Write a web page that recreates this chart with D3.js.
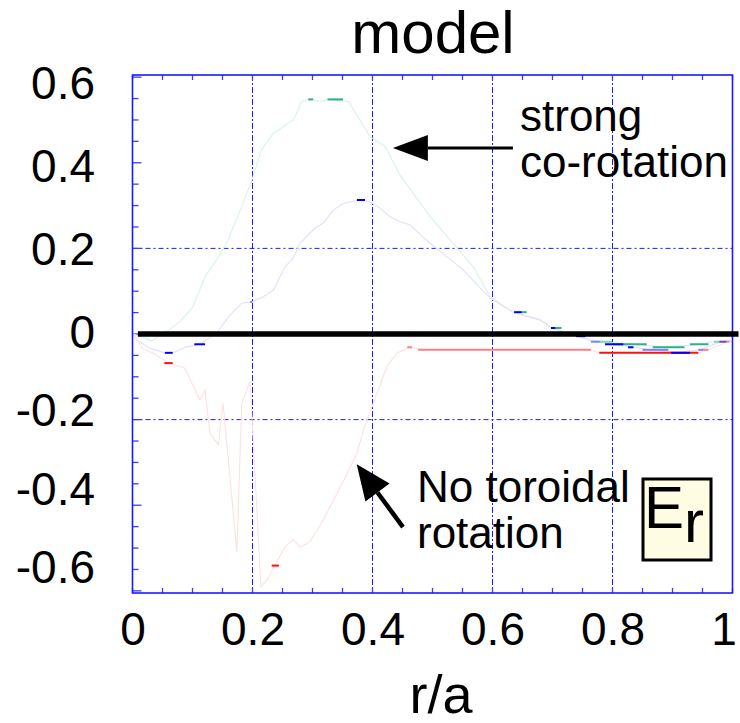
<!DOCTYPE html>
<html>
<head>
<meta charset="utf-8">
<script src="https://cdn.jsdelivr.net/npm/d3@7"></script>
<style>
  html, body { margin: 0; padding: 0; background: #fff; }
  svg { display: block; font-family: "Liberation Sans", Arial, Helvetica, sans-serif; }
</style>
</head>
<body>
<svg id="chart" width="740" height="723"></svg>
<script>
// ---------------- data ----------------
const xTicks = [0, 0.2, 0.4, 0.6, 0.8, 1];
const yTicks = [-0.6, -0.4, -0.2, 0, 0.2, 0.4, 0.6];
const xGrid = [0.2, 0.4, 0.6, 0.8];
const yGrid = [-0.2, 0.2];

// strong co-rotation profile (r/a, Er)
const greenCurve = [
  [0.001, 0], [0.0125, -0.006], [0.032, -0.016], [0.06, 0.009], [0.079, 0.029],
  [0.101, 0.064], [0.121, 0.134], [0.14, 0.173], [0.157, 0.212], [0.182, 0.297],
  [0.199, 0.36], [0.215, 0.43], [0.235, 0.469], [0.268, 0.5], [0.282, 0.543],
  [0.296, 0.548], [0.315, 0.543], [0.324, 0.548], [0.36, 0.543], [0.396, 0.461],
  [0.421, 0.438], [0.446, 0.371], [0.496, 0.274], [0.568, 0.157], [0.596, 0.087],
  [0.634, 0.051], [0.679, 0.033], [0.699, 0.014], [0.741, -0.005], [0.779, -0.018],
  [0.829, -0.023], [0.879, -0.03], [0.929, -0.026], [0.963, -0.019], [0.996, -0.016]
];
// intermediate profile
const blueCurve = [
  [0.001, 0], [0.007, -0.014], [0.029, -0.033], [0.054, -0.044], [0.067, -0.044],
  [0.09, -0.03], [0.1125, -0.024], [0.14, 0.002], [0.1625, 0.044], [0.182, 0.072],
  [0.199, 0.075], [0.218, 0.087], [0.235, 0.103], [0.254, 0.157], [0.268, 0.177],
  [0.279, 0.212], [0.304, 0.247], [0.318, 0.259], [0.335, 0.29], [0.351, 0.305],
  [0.379, 0.313], [0.396, 0.309], [0.4125, 0.294], [0.429, 0.274], [0.446, 0.262],
  [0.4625, 0.255], [0.484, 0.227], [0.496, 0.212], [0.551, 0.15], [0.596, 0.084],
  [0.634, 0.051], [0.679, 0.033], [0.699, 0.014], [0.741, -0.005], [0.771, -0.018],
  [0.8125, -0.026], [0.8625, -0.037], [0.9125, -0.042], [0.946, -0.037], [0.979, -0.019],
  [0.999, -0.016]
];
// no toroidal rotation profile
const redCurve = [
  [0.001, 0], [0.018, -0.036], [0.035, -0.045], [0.06, -0.068], [0.0875, -0.08],
  [0.099, -0.115], [0.1125, -0.154], [0.121, -0.131], [0.129, -0.232], [0.143, -0.259],
  [0.151, -0.162], [0.174, -0.509], [0.182, -0.162], [0.196, -0.111], [0.214, -0.59],
  [0.224, -0.575], [0.2375, -0.541], [0.254, -0.497], [0.268, -0.48], [0.279, -0.498],
  [0.296, -0.485], [0.315, -0.442], [0.351, -0.345], [0.374, -0.279], [0.385, -0.224],
  [0.401, -0.162], [0.424, -0.076], [0.44, -0.045], [0.4625, -0.031], [0.486, -0.037],
  [0.6125, -0.037], [0.7625, -0.037], [0.779, -0.044], [0.9425, -0.044], [0.959, -0.037],
  [0.9925, -0.018]
];

// short segments [r0, r1, Er]
const dashLightRed = [[0.458, 0.466, -0.031], [0.476, 0.764, -0.037], [0.951, 0.96, -0.037], [0.99, 0.995, -0.018]];
const dashRed = [[0.053, 0.067, -0.068], [0.232, 0.244, -0.541], [0.778, 0.943, -0.044]];
const dashGreen = [[0.293, 0.301, 0.548], [0.325, 0.351, 0.548], [0.649, 0.657, 0.051], [0.705, 0.715, 0.014],
  [0.801, 0.857, -0.024], [0.867, 0.92, -0.031], [0.929, 0.96, -0.024]];
const dashLightGreen = [[0.779, 0.7995, -0.018], [0.969, 0.978, -0.018]];
const dashBlue = [[0.374, 0.3875, 0.313], [0.103, 0.121, -0.024], [0.054, 0.067, -0.044], [0.636, 0.649, 0.051],
  [0.6975, 0.705, 0.014], [0.739, 0.755, -0.005], [0.7875, 0.818, -0.024], [0.826, 0.835, -0.031], [0.8975, 0.929, -0.044]];
const dashLightBlue = [[0.196, 0.2, 0.075], [0.764, 0.779, -0.018], [0.85, 0.893, -0.037], [0.943, 0.951, -0.037]];
const dashPurple = [[0.978, 0.99, -0.018]];

// annotations
const annotations = [
  { lines: ["strong", "co-rotation"], tip: [0.434, 0.4346], tail: [0.634, 0.4346] },
  { lines: ["No toroidal", "rotation"], tip: [0.3737, -0.3044], tail: [0.4508, -0.451] }
];

// ---------------- drawing ----------------
const svg = d3.select("#chart");
const L = 132.5, R = 732.5, T = 75, B = 593;
const x = d3.scaleLinear().domain([0, 1]).range([L, R]);
const y = d3.scaleLinear().domain([-0.605, 0.605]).range([B, T]);
// tick-label placement of the original figure (labels slightly off the grid)
const yLab = d3.scaleLinear().domain([-0.6, 0, 0.6]).range([567.5, 333, 83.5]);

const blue = "#1a1aff";

// grid
svg.append("g").selectAll("line").data(xGrid).join("line")
  .attr("x1", d => x(d)).attr("x2", d => x(d)).attr("y1", T).attr("y2", B)
  .attr("stroke", blue).attr("stroke-width", 1).attr("stroke-dasharray", "6,2,2,2");
svg.append("g").selectAll("line").data(yGrid).join("line")
  .attr("x1", L).attr("x2", R).attr("y1", d => y(d)).attr("y2", d => y(d))
  .attr("stroke", blue).attr("stroke-width", 1).attr("stroke-dasharray", "5,3,2,3");

// minor ticks
const minorX = d3.range(0, 1.0001, 0.05).map(v => +v.toFixed(2));
const minorY = d3.range(-0.6, 0.6001, 0.05).map(v => +v.toFixed(2));
const tickG = svg.append("g").attr("stroke", "#3c3cff").attr("stroke-width", 1.3);
minorX.forEach(v => {
  tickG.append("line").attr("x1", x(v)).attr("x2", x(v)).attr("y1", T).attr("y2", T + 5);
  tickG.append("line").attr("x1", x(v)).attr("x2", x(v)).attr("y1", B).attr("y2", B - 5);
});
minorY.forEach(v => {
  const major = Math.abs(Math.round(v * 10) % 2) === 0 && Math.abs(v * 10 - Math.round(v * 10)) < 1e-6;
  tickG.append("line").attr("x1", L).attr("x2", L + (major ? 9 : 6)).attr("y1", y(v)).attr("y2", y(v));
});

// curves (very faint in the original)
const line = d3.line().x(d => x(d[0])).y(d => y(d[1]));
[[greenCurve, "#d6f3e8"], [blueCurve, "#e0e0fc"], [redCurve, "#ffe0e0"]].forEach(([data, c]) => {
  svg.append("path").datum(data).attr("d", line).attr("fill", "none")
    .attr("stroke", c).attr("stroke-width", 1.1);
});

// short segments
[[dashLightRed, "#ff8080"], [dashRed, "#ff1010"], [dashLightGreen, "#80d2b4"], [dashGreen, "#2fb089"],
 [dashLightBlue, "#8080ff"], [dashBlue, "#0000ff"], [dashPurple, "#6a48c0"]].forEach(([data, c]) => {
  svg.append("g").selectAll("line").data(data).join("line")
    .attr("x1", d => x(d[0])).attr("x2", d => x(d[1]))
    .attr("y1", d => y(d[2])).attr("y2", d => y(d[2]))
    .attr("stroke", c).attr("stroke-width", 2);
});

// frame
svg.append("rect").attr("x", L).attr("y", T).attr("width", R - L).attr("height", B - T)
  .attr("fill", "none").attr("stroke", blue).attr("stroke-width", 1.6);

// zero line
svg.append("line").attr("x1", x(0.009)).attr("x2", x(1.01)).attr("y1", y(0)).attr("y2", y(0))
  .attr("stroke", "#000").attr("stroke-width", 5.5);

// axes labels
const fmt = d => d === 0 ? "0" : String(d);
const xAxis = svg.append("g").attr("transform", `translate(0,${B})`)
  .call(d3.axisBottom(x).tickValues(xTicks).tickFormat(fmt).tickSize(0).tickPadding(19));
xAxis.select(".domain").remove();
xAxis.selectAll("text").attr("font-size", 46).attr("font-family", "Liberation Sans, Arial, sans-serif").attr("fill", "#000")
  .attr("dx", d => d === 1 ? -9 : 0);

const yAxis = svg.append("g").attr("transform", "translate(95,0)")
  .call(d3.axisLeft(yLab).tickValues(yTicks).tickFormat(fmt).tickSize(0).tickPadding(0));
yAxis.select(".domain").remove();
yAxis.selectAll("text").attr("font-size", 46).attr("font-family", "Liberation Sans, Arial, sans-serif").attr("fill", "#000");

// title and axis title
svg.append("text").attr("x", 433).attr("y", 53).attr("text-anchor", "middle")
  .attr("font-size", 60).text("model");
svg.append("text").attr("x", 441).attr("y", 713).attr("text-anchor", "middle")
  .attr("font-size", 54).text("r/a");

// annotations
function arrow(a, headLen, headHalf, width) {
  const [tx, ty] = [x(a.tip[0]), y(a.tip[1])];
  const [sx, sy] = [x(a.tail[0]), y(a.tail[1])];
  const ang = Math.atan2(sy - ty, sx - tx);
  const bx = tx + headLen * Math.cos(ang), by = ty + headLen * Math.sin(ang);
  const px = -Math.sin(ang) * headHalf, py = Math.cos(ang) * headHalf;
  svg.append("line").attr("x1", sx).attr("y1", sy).attr("x2", bx).attr("y2", by)
    .attr("stroke", "#000").attr("stroke-width", width);
  svg.append("path").attr("d", `M${tx},${ty}L${bx + px},${by + py}L${bx - px},${by - py}Z`).attr("fill", "#000");
}
arrow(annotations[0], 35, 13, 3);
arrow(annotations[1], 35, 15, 4.5);

const t1 = svg.append("text").attr("font-size", 44);
t1.append("tspan").attr("x", 520).attr("y", 131).text(annotations[0].lines[0]);
t1.append("tspan").attr("x", 520).attr("y", 177).text(annotations[0].lines[1]);
const t2 = svg.append("text").attr("font-size", 44);
t2.append("tspan").attr("x", 417).attr("y", 502).text(annotations[1].lines[0]);
t2.append("tspan").attr("x", 417).attr("y", 548).text(annotations[1].lines[1]);

// Er label box
svg.append("rect").attr("x", 643).attr("y", 479).attr("width", 68).attr("height", 81)
  .attr("fill", "#fffce4").attr("stroke", "#000").attr("stroke-width", 3);
const er = svg.append("text").attr("x", 644).attr("y", 528).attr("font-size", 60);
er.append("tspan").text("E");
er.append("tspan").attr("dy", 14).text("r");
</script>
</body>
</html>
